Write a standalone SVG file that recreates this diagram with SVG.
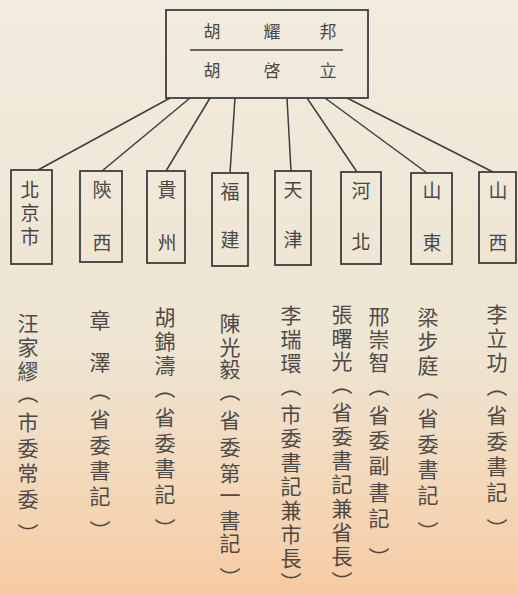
<svg xmlns="http://www.w3.org/2000/svg" width="518" height="595" viewBox="0 0 518 595">
<defs>
<linearGradient id="bg" x1="0" y1="0" x2="0" y2="1">
<stop offset="0" stop-color="#f1ecdf"/>
<stop offset="0.6" stop-color="#eee4d1"/>
<stop offset="0.8" stop-color="#f3d9bb"/>
<stop offset="1" stop-color="#f7cba3"/>
</linearGradient>
<style>
.box{fill:none;stroke:#3f3d3b;stroke-width:1.8}
.ln{stroke:#3f3d3b;stroke-width:1.5;fill:none}
.hd{font-family:"Noto Sans CJK TC","Noto Sans CJK JP",sans-serif;font-size:17px;fill:#4a4745;text-anchor:middle}
.pv{font-family:"Noto Sans CJK TC","Noto Sans CJK JP",sans-serif;font-size:19px;fill:#4a4745;text-anchor:middle}
.nm{font-family:"Noto Sans CJK TC","Noto Sans CJK JP",sans-serif;font-size:21px;fill:#4d4a47;text-anchor:middle}
</style>
</defs>
<rect width="518" height="595" fill="url(#bg)"/>
<g id="connectors">
<line class="ln" x1="170" y1="98" x2="38" y2="170"/>
<line class="ln" x1="190" y1="98" x2="102" y2="171"/>
<line class="ln" x1="210" y1="98" x2="166" y2="171"/>
<line class="ln" x1="235" y1="98" x2="230" y2="173"/>
<line class="ln" x1="287" y1="98" x2="291" y2="171"/>
<line class="ln" x1="307" y1="98" x2="357" y2="172"/>
<line class="ln" x1="325" y1="98" x2="427" y2="173"/>
<line class="ln" x1="347" y1="98" x2="493" y2="172"/>
</g>
<g id="leaders">
<rect class="box" x="166" y="10" width="202" height="88" stroke-width="2"/>
<line class="ln" x1="190" y1="50" x2="343" y2="50"/>
<text class="hd" x="212" y="38">胡</text>
<text class="hd" x="272" y="38">耀</text>
<text class="hd" x="328" y="38">邦</text>
<text class="hd" x="212" y="77">胡</text>
<text class="hd" x="272" y="77">啓</text>
<text class="hd" x="328" y="77">立</text>
</g>
<g id="beijing">
<rect class="box" x="11" y="170" width="41" height="94"/>
<text class="pv" x="30 30 30" y="197 220 244">北京市</text>
</g>
<g id="shaanxi">
<rect class="box" x="80" y="171" width="42" height="91"/>
<text class="pv" x="102 102" y="197 250">陝西</text>
</g>
<g id="guizhou">
<rect class="box" x="147" y="171" width="38" height="92"/>
<text class="pv" x="167 167" y="197 250">貴州</text>
</g>
<g id="fujian">
<rect class="box" x="212" y="173" width="36" height="93"/>
<text class="pv" x="230 230" y="199 247">福建</text>
</g>
<g id="tianjin">
<rect class="box" x="275" y="171" width="36" height="94"/>
<text class="pv" x="293 293" y="197 247">天津</text>
</g>
<g id="hebei">
<rect class="box" x="341" y="172" width="40" height="92"/>
<text class="pv" x="361 361" y="198 249">河北</text>
</g>
<g id="shandong">
<rect class="box" x="411" y="173" width="41" height="91"/>
<text class="pv" x="432 432" y="198 250">山東</text>
</g>
<g id="shanxi">
<rect class="box" x="479" y="172" width="37" height="91"/>
<text class="pv" x="498 498" y="198 250">山西</text>
</g>
<g id="beijing-person">
<text class="nm" x="28 28 28" y="331 355 379">汪家繆</text>
<text class="nm" x="28" y="401.5" transform="rotate(90 28 393.5)">（</text>
<text class="nm" x="28 28 28 28" y="430 455.5 481 506.5">市委常委</text>
<text class="nm" x="28" y="541.5" transform="rotate(90 28 533.5)">）</text>
</g>
<g id="shaanxi-person">
<text class="nm" x="100 100" y="328 370">章澤</text>
<text class="nm" x="100" y="398.5" transform="rotate(90 100 390.5)">（</text>
<text class="nm" x="100 100 100 100" y="427 452.5 478 503.5">省委書記</text>
<text class="nm" x="100" y="538.5" transform="rotate(90 100 530.5)">）</text>
</g>
<g id="guizhou-person">
<text class="nm" x="165 165 165" y="325 349 373">胡錦濤</text>
<text class="nm" x="165" y="396.5" transform="rotate(90 165 388.5)">（</text>
<text class="nm" x="165 165 165 165" y="425 450.5 476 501.5">省委書記</text>
<text class="nm" x="165" y="536.5" transform="rotate(90 165 528.5)">）</text>
</g>
<g id="fujian-person">
<text class="nm" x="230 230 230" y="331 355 377">陳光毅</text>
<text class="nm" x="230" y="399.5" transform="rotate(90 230 391.5)">（</text>
<text class="nm" x="230 230 230 230 230 230" y="428 455 481 503 528 551">省委第一書記</text>
<text class="nm" x="230" y="585.5" transform="rotate(90 230 577.5)">）</text>
</g>
<g id="tianjin-person">
<text class="nm" x="291 291 291" y="323 347 371">李瑞環</text>
<text class="nm" x="291" y="394.5" transform="rotate(90 291 386.5)">（</text>
<text class="nm" x="291 291 291 291 291 291 291" y="422 446 470 494 518 542 566">市委書記兼市長</text>
<text class="nm" x="291" y="590.5" transform="rotate(90 291 582.5)">）</text>
</g>
<g id="hebei-person1">
<text class="nm" x="342 342 342" y="322 346 369">張曙光</text>
<text class="nm" x="342" y="392.5" transform="rotate(90 342 384.5)">（</text>
<text class="nm" x="342 342 342 342 342 342 342" y="420 444 468 492 516 540 564">省委書記兼省長</text>
<text class="nm" x="342" y="589.5" transform="rotate(90 342 581.5)">）</text>
</g>
<g id="hebei-person2">
<text class="nm" x="379 379 379" y="324 347 370">邢崇智</text>
<text class="nm" x="379" y="394.5" transform="rotate(90 379 386.5)">（</text>
<text class="nm" x="379 379 379 379 379" y="423 448 473 500 526">省委副書記</text>
<text class="nm" x="379" y="565.5" transform="rotate(90 379 557.5)">）</text>
</g>
<g id="shandong-person">
<text class="nm" x="428 428 428" y="325 349 373">梁步庭</text>
<text class="nm" x="428" y="397.5" transform="rotate(90 428 389.5)">（</text>
<text class="nm" x="428 428 428 428" y="426 451.5 477 502.5">省委書記</text>
<text class="nm" x="428" y="539.5" transform="rotate(90 428 531.5)">）</text>
</g>
<g id="shanxi-person">
<text class="nm" x="497 497 497" y="322 346 370">李立功</text>
<text class="nm" x="497" y="394.5" transform="rotate(90 497 386.5)">（</text>
<text class="nm" x="497 497 497 497" y="423 448.5 474 499.5">省委書記</text>
<text class="nm" x="497" y="536.5" transform="rotate(90 497 528.5)">）</text>
</g>
</svg>
